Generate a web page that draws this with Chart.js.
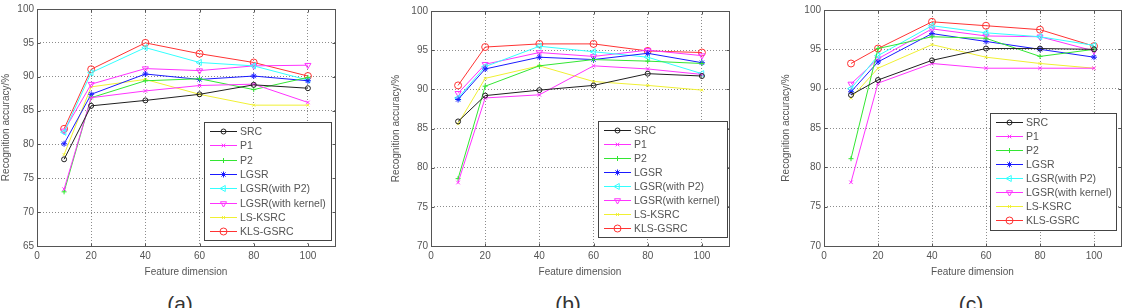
<!DOCTYPE html>
<html>
<head>
<meta charset="utf-8">
<script src="https://cdn.jsdelivr.net/npm/chart.js@4.4.0/dist/chart.umd.min.js"></script>
<style>
  html, body { margin: 0; padding: 0; background: #fff; }
  body { width: 1138px; height: 308px; position: relative; overflow: hidden; font-family: "Liberation Sans", Arial, sans-serif; }
  .panel { position: absolute; top: 0; }
  .cap { position: absolute; top: 292px; font-size: 21px; color: #333; width: 40px; text-align: center; }
</style>
</head>
<body>
<div class="panel" style="left:0px"><canvas id="chart_a" width="345" height="282"></canvas></div>
<div class="panel" style="left:390px"><canvas id="chart_b" width="345" height="282"></canvas></div>
<div class="panel" style="left:780px"><canvas id="chart_c" width="350" height="282"></canvas></div>
<div class="cap" style="left:160px">(a)</div>
<div class="cap" style="left:548px">(b)</div>
<div class="cap" style="left:951px">(c)</div>
<script>
// feature dimensions (x axis)
const dims = [10, 20, 40, 60, 80, 100];
const xTicks = [0, 20, 40, 60, 80, 100];

// legend names per panel
const namesA = ["SRC", "P1", "P2", "LGSR", "LGSR(with P2)", "LGSR(with kernel)", "LS-KSRC", "KLS-GSRC"];
const namesBC = ["SRC", "P1", "P2", "LGSR", "LGSR(with P2)", "LGSR(with kernel)", "LS-KSRC", "KLS-GSRC"];

// (a) recognition accuracy %
const srcA    = [77.8, 85.7, 86.5, 87.4, 88.8, 88.3];
const p1A     = [73.4, 86.9, 87.9, 88.7, 88.9, 86.2];
const p2A     = [73.0, 86.9, 89.4, 89.7, 88.1, 89.9];
const lgsrA   = [80.1, 87.4, 90.4, 89.6, 90.1, 89.4];
const lgsrP2A = [81.8, 90.6, 94.3, 92.1, 91.6, 89.5];
const lgsrKA  = [82.0, 88.9, 91.2, 90.9, 91.6, 91.7];
const lsksrcA = [78.5, 88.5, 89.6, 87.4, 85.8, 85.8];
const klsA    = [82.3, 91.1, 95.0, 93.4, 92.1, 90.1];

// (b)
const srcB    = [85.9, 89.2, 89.9, 90.5, 92.0, 91.7];
const p1B     = [78.1, 88.9, 89.3, 93.0, 92.6, 91.9];
const p2B     = [78.6, 90.4, 93.0, 93.8, 93.6, 93.3];
const lgsrB   = [88.7, 92.6, 94.1, 93.8, 94.6, 93.4];
const lgsrP2B = [88.9, 92.9, 95.5, 94.8, 94.1, 92.0];
const lgsrKB  = [89.5, 93.2, 94.7, 94.2, 95.0, 94.3];
const lsksrcB = [85.6, 91.4, 93.0, 91.0, 90.5, 89.9];
const klsB    = [90.5, 95.4, 95.8, 95.8, 94.9, 94.7];

// (c)
const srcC    = [89.2, 91.1, 93.6, 95.1, 95.1, 95.0];
const p1C     = [78.1, 90.7, 93.2, 92.6, 92.6, 92.6];
const p2C     = [81.1, 95.1, 96.6, 96.4, 94.1, 95.0];
const lgsrC   = [89.6, 93.4, 97.0, 96.0, 95.0, 94.0];
const lgsrP2C = [90.0, 94.2, 98.0, 97.1, 96.6, 95.5];
const lgsrKC  = [90.6, 93.8, 97.6, 96.7, 96.6, 94.8];
const lsksrcC = [88.8, 92.6, 95.6, 94.0, 93.2, 92.6];
const klsC    = [93.2, 95.1, 98.5, 98.0, 97.5, 95.4];

// matlab-like styles, one per method
const styles = [
    { color: "#202020", point: "circle", radius: 2.5, rot: 0 },
    { color: "#ff33ff", point: "crossRot", radius: 2.5, rot: 0 },
    { color: "#33e633", point: "cross", radius: 2.5, rot: 0 },
    { color: "#1a1aff", point: "star", radius: 3, rot: 0 },
    { color: "#33ffff", point: "triangle", radius: 3.5, rot: -90 },
    { color: "#ff33ff", point: "triangle", radius: 3.5, rot: 180 },
    { color: "#f0f033", point: "crossRot", radius: 2, rot: 0 },
    { color: "#ff3333", point: "circle", radius: 3.5, rot: 0 }
];

const frameAndLegend = {
    id: "frameAndLegend",
    afterDraw(chart) {
        const ctx = chart.ctx;
        const a = chart.chartArea;
        ctx.save();
        ctx.strokeStyle = "#555";
        ctx.lineWidth = 1;
        const L = Math.round(a.left) + 0.5, T = Math.round(a.top) + 0.5;
        const R = Math.round(a.right) + 0.5, B = Math.round(a.bottom) + 0.5;
        ctx.strokeRect(L, T, R - L, B - T);

        // small inward tick marks, matlab style
        ctx.beginPath();
        chart.scales.y.ticks.forEach(t => {
            const y = Math.round(chart.scales.y.getPixelForValue(t.value)) + 0.5;
            ctx.moveTo(L, y); ctx.lineTo(L + 3, y);
            ctx.moveTo(R, y); ctx.lineTo(R - 3, y);
        });
        chart.scales.x.ticks.forEach(t => {
            const x = Math.round(chart.scales.x.getPixelForValue(t.value)) + 0.5;
            ctx.moveTo(x, B); ctx.lineTo(x, B - 3);
            ctx.moveTo(x, T); ctx.lineTo(x, T + 3);
        });
        ctx.stroke();

        // legend box, placed relative to the plot area
        const lg = chart.options.plugins.frameAndLegend;
        const x0 = a.right - lg.fromRight, y0 = a.bottom - lg.fromBottom;
        ctx.fillStyle = "#fff";
        ctx.fillRect(x0, y0, lg.w, lg.h);
        ctx.strokeStyle = "#444";
        ctx.strokeRect(Math.round(x0) + 0.5, Math.round(y0) + 0.5, lg.w, lg.h);
        ctx.font = "10.5px 'Liberation Sans', Arial, sans-serif";
        ctx.textBaseline = "middle";
        chart.data.datasets.forEach((ds, i) => {
            const y = Math.round(y0 + 9 + i * lg.step) + 0.5;
            ctx.strokeStyle = ds.borderColor;
            ctx.lineWidth = 1;
            ctx.beginPath();
            ctx.moveTo(x0 + 6, y);
            ctx.lineTo(x0 + 33, y);
            ctx.stroke();
            ctx.fillStyle = "rgba(0,0,0,0)";
            Chart.helpers.drawPoint(ctx, {
                pointStyle: ds.pointStyle, radius: ds.pointRadius, rotation: ds.pointRotation,
                borderWidth: 1
            }, x0 + 19.5, y);
            ctx.fillStyle = "#555";
            ctx.fillText(ds.label, x0 + 36, y + 0.5);
        });
        ctx.restore();
    }
};

function buildChart(id, names, series, yMin, yAxisWidth, pad, legend) {
    const datasets = series.map((vals, i) => {
        const s = styles[i];
        return {
            label: names[i],
            data: dims.map((d, j) => ({ x: d, y: vals[j] })),
            borderColor: s.color,
            backgroundColor: "rgba(0,0,0,0)",
            pointBorderColor: s.color,
            pointBackgroundColor: "rgba(0,0,0,0)",
            pointStyle: s.point,
            pointRadius: s.radius,
            pointRotation: s.rot,
            pointBorderWidth: 1,
            borderWidth: 1,
            tension: 0
        };
    });
    const yTicks = [];
    for (let v = yMin; v <= 100; v += 5) yTicks.push(v);
    const tickFont = { family: "'Liberation Sans', Arial, sans-serif", size: 10 };
    const gridOpts = { color: "#8c8c8c", drawTicks: false, borderDash: [1, 2] };
    return new Chart(document.getElementById(id), {
        type: "line",
        data: { datasets },
        options: {
            responsive: false,
            animation: false,
            layout: { padding: pad },
            plugins: {
                legend: { display: false },
                tooltip: { enabled: false },
                frameAndLegend: legend
            },
            scales: {
                x: {
                    type: "linear", min: 0, max: 110,
                    afterBuildTicks: (sc) => { sc.ticks = xTicks.map(v => ({ value: v })); },
                    afterFit: (sc) => { sc.height = 36; },
                    grid: gridOpts,
                    border: { display: false, dash: [1, 2] },
                    ticks: { color: "#555", font: tickFont, padding: 4, maxRotation: 0 },
                    title: { display: true, text: "Feature dimension", color: "#555", font: tickFont, padding: { top: 1 } }
                },
                y: {
                    type: "linear", min: yMin, max: 100,
                    afterBuildTicks: (sc) => { sc.ticks = yTicks.map(v => ({ value: v })); },
                    afterFit: (sc) => { sc.width = yAxisWidth; },
                    grid: gridOpts,
                    border: { display: false, dash: [1, 2] },
                    ticks: { color: "#555", font: tickFont, padding: 3 },
                    title: { display: true, text: "Recognition accuracy/%", color: "#555", font: tickFont, padding: 0 }
                }
            }
        },
        plugins: [frameAndLegend]
    });
}

buildChart("chart_a", namesA, [srcA, p1A, p2A, lgsrA, lgsrP2A, lgsrKA, lsksrcA, klsA],
    65, 37, { top: 8, right: 10, left: 0, bottom: 0 },
    { fromRight: 131, fromBottom: 124, w: 127, h: 118, step: 14.3 });
buildChart("chart_b", namesBC, [srcB, p1B, p2B, lgsrB, lgsrP2B, lgsrKB, lsksrcB, klsB],
    70, 41, { top: 11, right: 6, left: 0, bottom: 0 },
    { fromRight: 131, fromBottom: 125, w: 129, h: 116, step: 14.0 });
buildChart("chart_c", namesBC, [srcC, p1C, p2C, lgsrC, lgsrP2C, lgsrKC, lsksrcC, klsC],
    70, 44, { top: 10, right: 9, left: 0, bottom: 0 },
    { fromRight: 131, fromBottom: 133, w: 126, h: 117, step: 14.0 });
</script>
</body>
</html>
